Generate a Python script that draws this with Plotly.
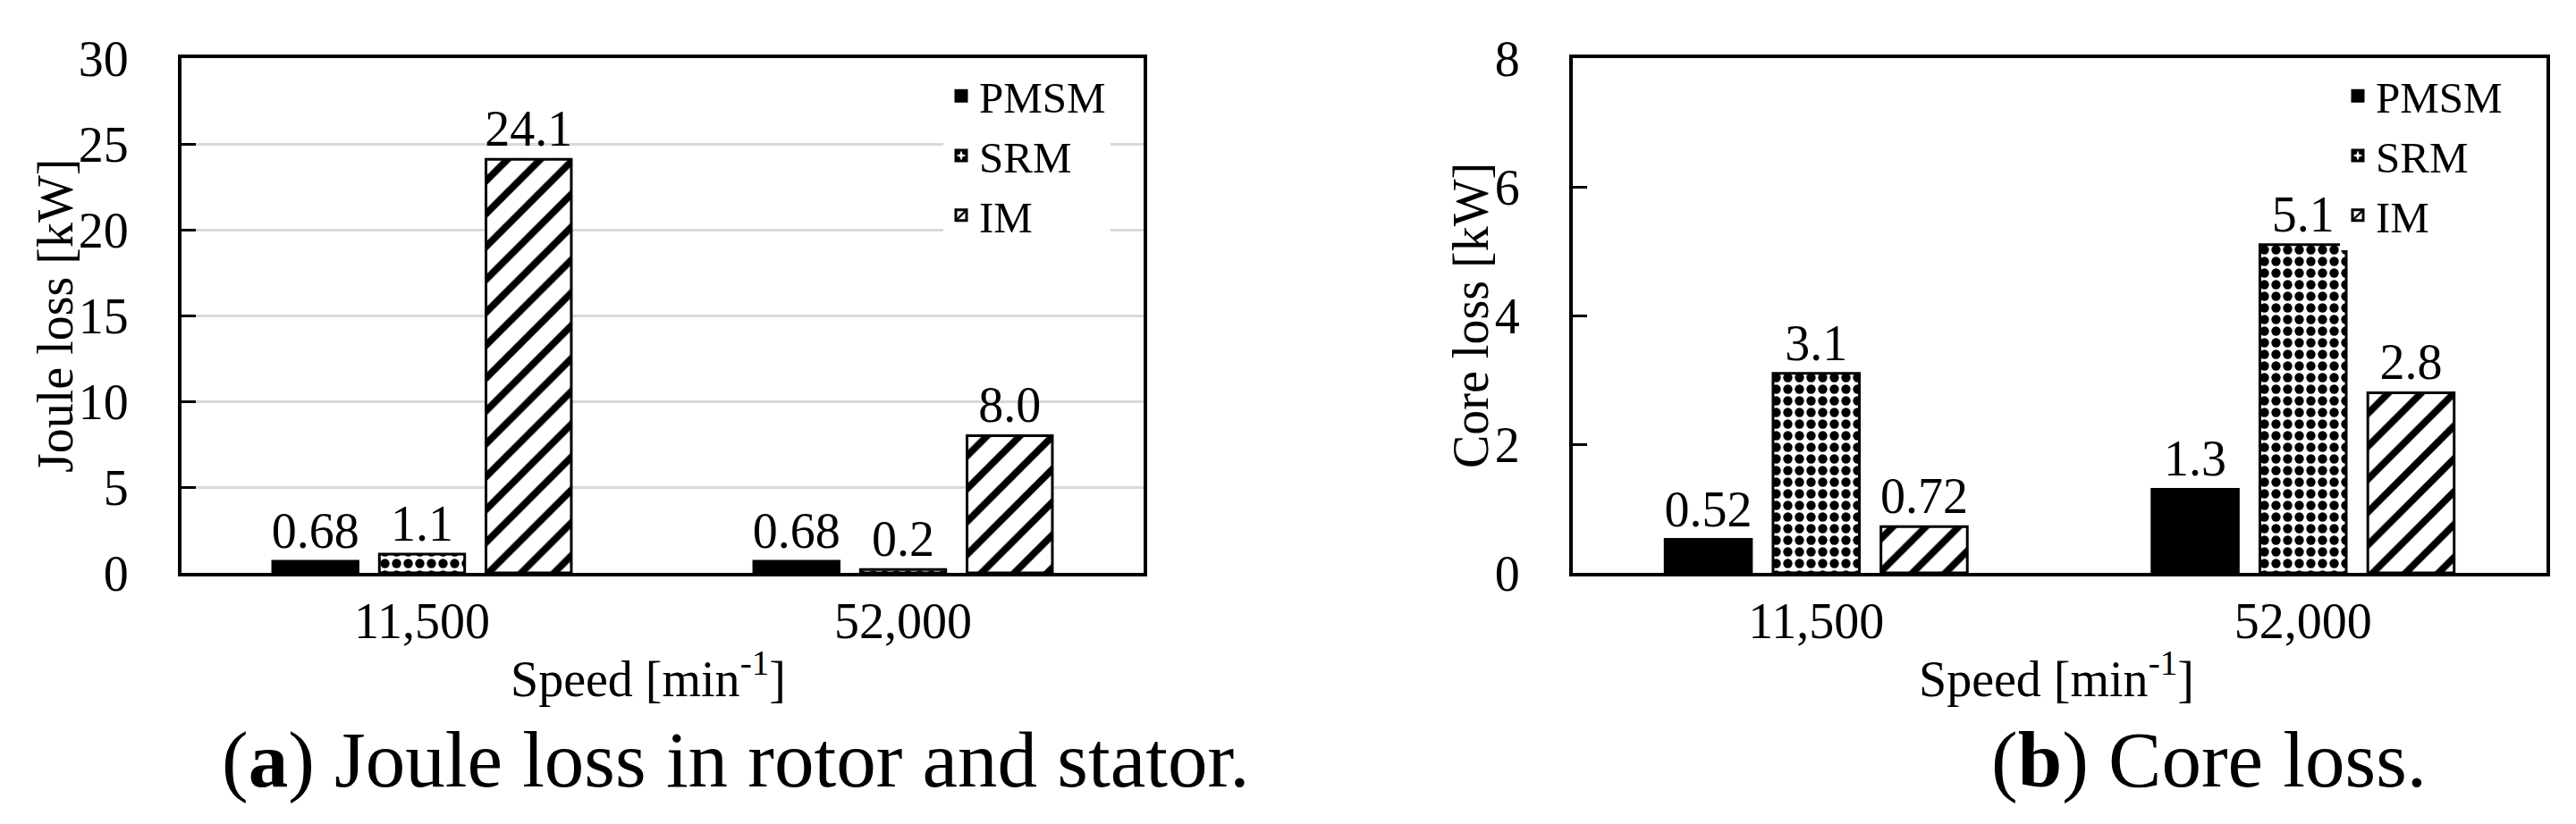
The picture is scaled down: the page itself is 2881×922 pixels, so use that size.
import plotly.graph_objects as go

# data
speeds = ["11,500", "52,000"]
motors = ["PMSM", "SRM", "IM"]
joule_pmsm = [0.68, 0.68]
joule_srm = [1.1, 0.2]
joule_im = [24.1, 8.0]
core_pmsm = [0.52, 1.3]
core_srm = [3.1, 5.1]
core_im = [0.72, 2.8]

W, H = 2881, 922
FONT = "Liberation Serif"
FS = 56

def px(x):
  return x / W

def py(y):
  return 1 - y / H

def bar_style(motor):
  if motor == "PMSM":
    return dict(color="black", line=dict(color="black", width=3))
  if motor == "SRM":
    pat = dict(shape=".", size=13, solidity=0.5, fgcolor="black", bgcolor="white", fgopacity=1)
  else:
    pat = dict(shape="/", size=26, solidity=0.3, fgcolor="black", bgcolor="white", fgopacity=1)
  return dict(color="white", pattern=pat, line=dict(color="black", width=3))

def add_bars(fig, values, xa, ya, legend):
  for motor, vals in zip(motors, values):
    fig.add_trace(go.Bar(
      x=speeds, y=vals, name=motor,
      marker=bar_style(motor),
      text=[str(v) for v in vals], textposition="outside",
      textfont=dict(family=FONT, size=FS, color="black"),
      constraintext="none", cliponaxis=False,
      xaxis=xa, yaxis=ya, legend=legend))

fig = go.Figure()
add_bars(fig, [joule_pmsm, joule_srm, joule_im], "x", "y", "legend")
add_bars(fig, [core_pmsm, core_srm, core_im], "x2", "y2", "legend2")

plot_top, plot_bot = 57, 633
ydom = [py(plot_bot), py(plot_top)]

xax = dict(showline=True, mirror=True, linecolor="black", linewidth=4, ticks="",
           showgrid=False, automargin=False, ticklabelstandoff=2,
           tickfont=dict(family=FONT, size=FS, color="black"))
yax = dict(showline=True, mirror=True, linecolor="black", linewidth=4, ticks="inside",
           ticklen=16, tickwidth=3, tickcolor="black", zeroline=False, automargin=False,
           ticklabelstandoff=44, tickfont=dict(family=FONT, size=FS, color="black"))

leg = dict(font=dict(family=FONT, size=49, color="black"), bgcolor="white",
           xanchor="left", yanchor="top", borderwidth=0)

title_font = dict(family=FONT, size=FS, color="black")
cap_font = dict(family=FONT, size=89, color="black")

fig.update_layout(
  width=W, height=H,
  margin=dict(l=0, r=0, t=0, b=0),
  paper_bgcolor="white", plot_bgcolor="white",
  barmode="group", bargap=0.335, bargroupgap=0.2,
  xaxis=dict(xax, domain=[px(195), px(1271)], anchor="y"),
  yaxis=dict(yax, domain=ydom, anchor="x", range=[0, 30], tickvals=[0, 5, 10, 15, 20, 25, 30],
             showgrid=True, gridcolor="#d9d9d9", gridwidth=3),
  xaxis2=dict(xax, domain=[px(1751), px(2840)], anchor="y2"),
  yaxis2=dict(yax, domain=ydom, anchor="x2", range=[0, 8], tickvals=[0, 2, 4, 6, 8],
              showgrid=False),
  legend=dict(leg, x=px(1047), y=py(61)),
  legend2=dict(leg, x=px(2609), y=py(61)),
  showlegend=True,
  annotations=[
    dict(text="Joule loss [kW]", x=px(54), y=py(345), textangle=-90, font=title_font),
    dict(text="Core loss [kW]", x=px(1637), y=py(345), textangle=-90, font=title_font),
    dict(text="Speed [min<sup>-1</sup>]", x=px(717), y=py(747), font=title_font),
    dict(text="Speed [min<sup>-1</sup>]", x=px(2292), y=py(747), font=title_font),
    dict(text="(<b>a</b>) Joule loss in rotor and stator.", x=px(814), y=py(842), font=cap_font),
    dict(text="(<b>b</b>) Core loss.", x=px(2462), y=py(842), font=cap_font),
  ],
)
for a in fig.layout.annotations:
  a.update(xref="paper", yref="paper", showarrow=False, xanchor="center", yanchor="middle")

fig.write_html("out.html")
